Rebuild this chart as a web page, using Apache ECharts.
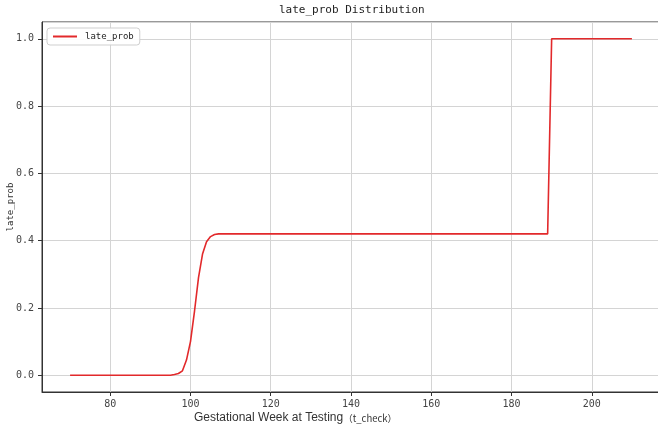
<!DOCTYPE html>
<html>
<head>
<meta charset="utf-8">
<script src="https://cdn.jsdelivr.net/npm/echarts@6/dist/echarts.min.js"></script>
<style>
html,body{margin:0;padding:0;background:#fff;}
#chart{width:658px;height:434px;}
</style>
</head>
<body>
<div id="chart"></div>
<script>
// Data
var weeks = [70, 95, 96, 97, 98, 99, 100, 101, 102, 103, 104, 105, 106, 107, 189, 190, 210];
var lateProb = [0, 0, 0.002, 0.005, 0.013, 0.045, 0.1, 0.19, 0.29, 0.36, 0.397, 0.412, 0.418, 0.42, 0.42, 1.0, 1.0];
var seriesName = 'late_prob';
var titleText = 'late_prob Distribution';
var xName = 'Gestational Week at Testing';
var xNameSuffix = '（t_check）';
var yName = 'late_prob';

var mono = '"DejaVu Sans Mono", "Liberation Mono", monospace';
var chart = echarts.init(document.getElementById('chart'), null, {renderer: 'canvas'});
var pts = weeks.map(function (w, i) { return [w, lateProb[i]]; });

chart.setOption({
  backgroundColor: '#ffffff',
  animation: false,
  title: {
    text: titleText,
    left: 279,
    top: 5,
    padding: 0,
    textStyle: {fontFamily: mono, fontSize: 11, fontWeight: 'normal', color: '#222'}
  },
  legend: {
    data: [seriesName],
    left: 47,
    top: 28,
    orient: 'vertical',
    padding: [4, 6, 4, 6],
    itemWidth: 24,
    itemHeight: 2,
    itemGap: 0,
    icon: 'rect',
    borderColor: '#cfcfcf',
    borderWidth: 1,
    borderRadius: 3,
    backgroundColor: 'rgba(255,255,255,0.9)',
    textStyle: {fontFamily: mono, fontSize: 9, color: '#222', padding: [0, 0, 0, 3]}
  },
  grid: {
    left: 42, right: -2, top: 22, bottom: 42,
    outerBoundsMode: 'none', containLabel: false,
    show: true, borderColor: '#333', borderWidth: 1, backgroundColor: '#fff'
  },
  xAxis: {
    type: 'value',
    min: 63, max: 217,
    splitNumber: 8, minInterval: 20, maxInterval: 20,
    axisLine: {show: true, onZero: false, lineStyle: {color: '#333', width: 1}},
    axisTick: {show: true, inside: false, length: 4, lineStyle: {color: '#333'}},
    axisLabel: {showMinLabel: false, showMaxLabel: false, margin: 7,
      fontFamily: mono, fontSize: 10, color: '#444'},
    splitLine: {show: true, lineStyle: {color: '#d4d4d4', width: 1}}
  },
  yAxis: {
    type: 'value',
    min: -0.05, max: 1.05,
    splitNumber: 6, minInterval: 0.2, maxInterval: 0.2,
    name: yName, nameLocation: 'middle', nameGap: 27, nameRotate: 90,
    nameMoveOverlap: false,
    nameTextStyle: {fontFamily: mono, fontSize: 9, color: '#333'},
    axisLine: {show: true, onZero: false, lineStyle: {color: '#333', width: 1}},
    axisTick: {show: true, inside: false, length: 4, lineStyle: {color: '#333'}},
    axisLabel: {showMinLabel: false, showMaxLabel: false, margin: 8,
      fontFamily: mono, fontSize: 10, color: '#444',
      formatter: function (v) { return v.toFixed(1); }},
    splitLine: {show: true, lineStyle: {color: '#d4d4d4', width: 1}}
  },
  graphic: [{
    type: 'text',
    left: 194,
    top: 412,
    style: {
      text: '{a|' + xName + '}{b|' + xNameSuffix + '}',
      rich: {
        a: {fontFamily: '"Liberation Sans", Arial, sans-serif', fontSize: 12, fill: '#333'},
        b: {fontFamily: '"Noto Sans CJK SC", sans-serif', fontSize: 9.5, fill: '#333'}
      }
    }
  }],
  series: [{
    name: seriesName,
    type: 'line',
    data: pts,
    showSymbol: false,
    symbol: 'none',
    smooth: false,
    lineStyle: {color: '#e2292b', width: 1.6},
    itemStyle: {color: '#e2292b'}
  }]
});
</script>
</body>
</html>
